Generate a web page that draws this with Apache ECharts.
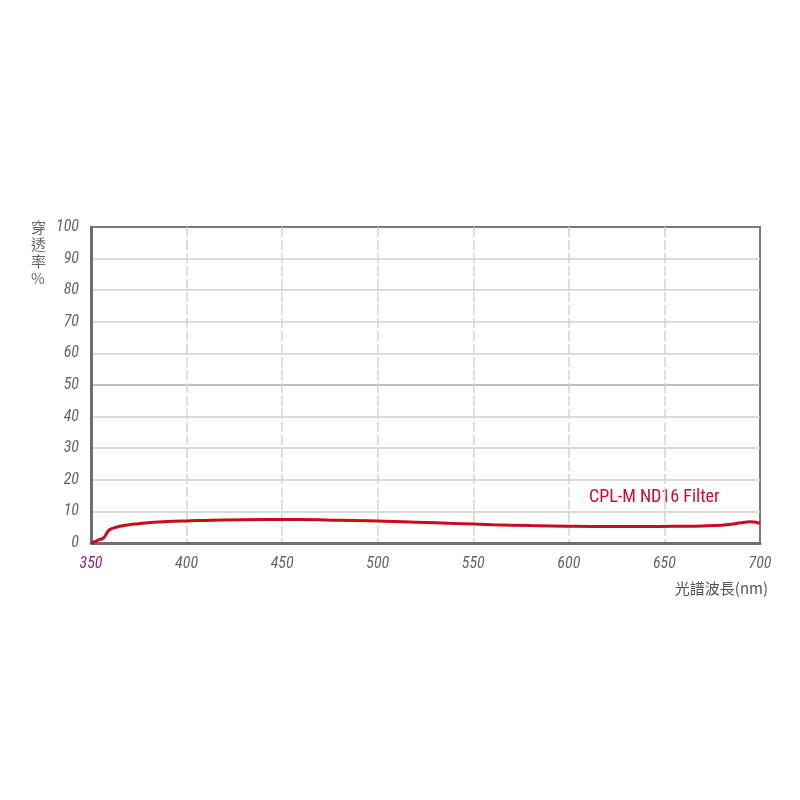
<!DOCTYPE html>
<html>
<head>
<meta charset="utf-8">
<script src="https://cdn.jsdelivr.net/npm/echarts@6/dist/echarts.min.js"></script>
<style>html,body{margin:0;padding:0;background:#fff}#c{width:800px;height:800px}</style>
</head>
<body>
<div id="c"></div>
<script>
const wavelengths = [350,352,354,356,357,358,359,360,362,365,370,375,380,390,400,420,440,460,480,500,520,540,560,580,600,620,640,660,670,680,685,690,695,698,700];
const transmission = [0,0.4,1.0,1.4,1.9,2.9,3.8,4.3,4.8,5.3,5.8,6.1,6.4,6.8,7.0,7.3,7.4,7.4,7.2,7.0,6.6,6.2,5.8,5.5,5.3,5.2,5.2,5.3,5.4,5.6,5.9,6.4,6.7,6.6,6.2];
const seriesName = 'CPL-M ND16 Filter';
const yAxisTitle = '穿\n透\n率\n%';
const xAxisTitle = '光譜波長(nm)';

const narrow = '"Liberation Sans Narrow", "Arial Narrow", "Roboto Condensed", Roboto, sans-serif';
const yGridColors = ['#cfcfcf','#cfcfcf','#cfcfcf','#cfcfcf','#cfcfcf','#a8a8a8','#cfcfcf','#cfcfcf','#cfcfcf','#cfcfcf','rgba(0,0,0,0)'];
const xGridColors = ['rgba(0,0,0,0)','#d4d4d4','#d4d4d4','#d4d4d4','#d4d4d4','#d4d4d4','#d4d4d4','rgba(0,0,0,0)'];

const chart = echarts.init(document.getElementById('c'));
chart.setOption({
  animation: false,
  backgroundColor: '#fff',
  grid: { left: 91, right: 40, top: 227, bottom: 257, show: true, borderColor: '#7a7a7a', borderWidth: 2, backgroundColor: 'transparent' },
  xAxis: {
    type: 'value', min: 350, max: 700, interval: 50,
    axisLine: { show: true, lineStyle: { color: '#6e6e6e', width: 3 } },
    axisTick: { show: false },
    splitLine: { show: true, lineStyle: { color: xGridColors, width: 1.5, type: [10, 3] } },
    axisLabel: {
      margin: 13, fontSize: 16, fontStyle: 'italic', fontFamily: narrow, color: '#666',
      formatter: function (v) { return Number(v) === 350 ? '{first|' + v + '}' : String(v); },
      rich: { first: { color: '#8a2a7c', fontSize: 16, fontStyle: 'italic', fontFamily: narrow } }
    }
  },
  yAxis: {
    type: 'value', min: 0, max: 100, interval: 10,
    axisLine: { show: true, lineStyle: { color: '#6e6e6e', width: 3 } },
    axisTick: { show: false },
    splitLine: { show: true, lineStyle: { color: yGridColors, width: 1.5 } },
    axisLabel: { margin: 12, fontSize: 16, fontStyle: 'italic', fontFamily: narrow, color: '#666' }
  },
  graphic: [
    { type: 'text', left: 31, top: 219, style: { text: yAxisTitle, fontSize: 15, lineHeight: 17, fill: '#666', fontFamily: '"Noto Sans CJK TC", sans-serif' } },
    { type: 'text', right: 32, top: 581, style: { text: xAxisTitle, fontSize: 15, fill: '#555', fontFamily: '"Noto Sans CJK TC", sans-serif' } },
    { type: 'text', left: 589, top: 488, style: { text: seriesName, fontSize: 18, fill: '#c8102e', fontFamily: narrow } }
  ],
  series: [{
    name: seriesName,
    type: 'line',
    data: wavelengths.map((w, i) => [w, transmission[i]]),
    smooth: 0.4,
    showSymbol: false,
    lineStyle: { color: '#cc0a1e', width: 3 },
    z: 5
  }]
});
</script>
</body>
</html>
